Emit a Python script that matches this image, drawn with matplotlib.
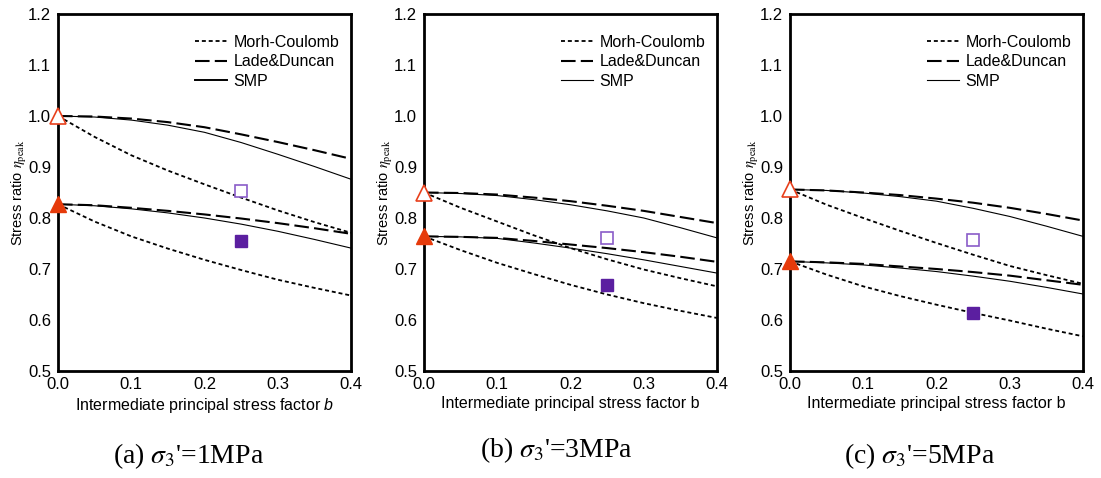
import matplotlib.pyplot as plt

plt.rcParams['font.family'] = ['Liberation Sans', 'DejaVu Sans']
plt.rcParams['mathtext.fontset'] = 'custom'
plt.rcParams['mathtext.rm'] = 'Liberation Sans'
plt.rcParams['mathtext.it'] = 'Liberation Sans:italic'

b = [0.0, 0.05, 0.1, 0.15, 0.2, 0.25, 0.3, 0.35, 0.4]

# (a) sigma3' = 1 MPa
mc_up_a = [1.000, 0.959, 0.923, 0.893, 0.866, 0.840, 0.815, 0.792, 0.771]
ld_up_a = [1.000, 0.999, 0.995, 0.988, 0.978, 0.964, 0.949, 0.933, 0.916]
smp_up_a = [1.000, 0.998, 0.992, 0.982, 0.968, 0.948, 0.925, 0.901, 0.876]
mc_lo_a = [0.827, 0.793, 0.764, 0.740, 0.718, 0.698, 0.679, 0.663, 0.648]
ld_lo_a = [0.827, 0.825, 0.820, 0.814, 0.807, 0.799, 0.790, 0.780, 0.769]
smp_lo_a = [0.827, 0.824, 0.818, 0.810, 0.800, 0.788, 0.774, 0.758, 0.741]
tri_a = [1.000, 0.827]
sq_a = [0.852, 0.754]

# (b) sigma3' = 3 MPa
mc_up_b = [0.850, 0.820, 0.793, 0.766, 0.741, 0.719, 0.699, 0.682, 0.666]
ld_up_b = [0.850, 0.849, 0.846, 0.840, 0.833, 0.824, 0.814, 0.802, 0.790]
smp_up_b = [0.850, 0.848, 0.844, 0.836, 0.826, 0.814, 0.800, 0.781, 0.761]
mc_lo_b = [0.764, 0.737, 0.712, 0.690, 0.669, 0.650, 0.633, 0.618, 0.604]
ld_lo_b = [0.764, 0.763, 0.761, 0.755, 0.748, 0.741, 0.733, 0.724, 0.714]
smp_lo_b = [0.764, 0.763, 0.760, 0.751, 0.741, 0.730, 0.718, 0.705, 0.692]
tri_b = [0.850, 0.764]
sq_b = [0.761, 0.668]

# (c) sigma3' = 5 MPa
mc_up_c = [0.856, 0.826, 0.800, 0.775, 0.751, 0.728, 0.706, 0.688, 0.671]
ld_up_c = [0.856, 0.854, 0.850, 0.845, 0.838, 0.830, 0.820, 0.808, 0.795]
smp_up_c = [0.856, 0.854, 0.849, 0.842, 0.833, 0.819, 0.803, 0.784, 0.764]
mc_lo_c = [0.715, 0.689, 0.666, 0.647, 0.630, 0.614, 0.599, 0.583, 0.568]
ld_lo_c = [0.715, 0.713, 0.710, 0.705, 0.700, 0.694, 0.687, 0.678, 0.669]
smp_lo_c = [0.715, 0.712, 0.708, 0.702, 0.695, 0.686, 0.676, 0.664, 0.651]
tri_c = [0.856, 0.715]
sq_c = [0.756, 0.614]

sq_b_pos = 0.25
captions = ["(a) $\\sigma_3$'=1MPa", "(b) $\\sigma_3$'=3MPa", "(c) $\\sigma_3$'=5MPa"]
xlabels = ['Intermediate principal stress factor $b$',
           'Intermediate principal stress factor b',
           'Intermediate principal stress factor b']

panels = [
    (mc_up_a, ld_up_a, smp_up_a, mc_lo_a, ld_lo_a, smp_lo_a, tri_a, sq_a),
    (mc_up_b, ld_up_b, smp_up_b, mc_lo_b, ld_lo_b, smp_lo_b, tri_b, sq_b),
    (mc_up_c, ld_up_c, smp_up_c, mc_lo_c, ld_lo_c, smp_lo_c, tri_c, sq_c),
]
lefts = [58, 424, 790]
cap_x = [189, 556, 920]
cap_base = [463, 457, 463]

fig = plt.figure(figsize=(11.01, 4.78), dpi=100)
mc_style = dict(color='black', lw=1.3, ls=(0, (2.2, 1.6)))
ld_style = dict(color='black', lw=1.5, ls=(0, (7, 2.5)))
smp_style = dict(color='black', lw=0.8, ls='-')

for i, (mcu, ldu, smpu, mcl, ldl, smpl, tri, sq) in enumerate(panels):
    ax = fig.add_axes([lefts[i] / 1101, 1 - 371 / 478, 293 / 1101, 357 / 478])
    for ys, st in [(mcu, mc_style), (ldu, ld_style), (smpu, smp_style),
                   (mcl, mc_style), (ldl, ld_style), (smpl, smp_style)]:
        ax.plot(b, ys, **st)
    ax.plot([], [], label='Morh-Coulomb', **mc_style)
    ax.plot([], [], label='Lade&Duncan', **ld_style)
    ax.plot([], [], label='SMP', color='black', lw=1.4 if i == 0 else 0.8)

    ax.plot(0, tri[0], marker='^', ms=11, mfc='white', mec='#e8401c', mew=1.2, clip_on=False, zorder=5)
    ax.plot(0, tri[1], marker='^', ms=11, mfc='#e63a0a', mec='#e63a0a', clip_on=False, zorder=5)
    ax.plot(sq_b_pos, sq[0], marker='s', ms=9, mfc='white', mec='#8a5cc8', mew=1.2, zorder=5)
    ax.plot(sq_b_pos, sq[1], marker='s', ms=9, mfc='#5b1fa0', mec='#5b1fa0', zorder=5)

    ax.set_xlim(0, 0.4)
    ax.set_ylim(0.5, 1.2)
    ax.set_xticks([0.0, 0.1, 0.2, 0.3, 0.4])
    ax.set_yticks([0.5, 0.6, 0.7, 0.8, 0.9, 1.0, 1.1, 1.2])
    ax.xaxis.set_major_formatter(plt.FormatStrFormatter('%.1f'))
    ax.yaxis.set_major_formatter(plt.FormatStrFormatter('%.1f'))
    ax.tick_params(axis='x', length=0, labelsize=12, pad=4)
    ax.tick_params(axis='y', length=0, labelsize=12, pad=5)
    for s in ax.spines.values():
        s.set_linewidth(2)
    ax.set_xlabel(xlabels[i], fontsize=11.5, labelpad=3)
    ax.set_ylabel('Stress ratio $\\eta_{\\rm peak}$', fontsize=10.5,
                  math_fontfamily='stix')
    ax.yaxis.set_label_coords(-0.1, 0.5)
    ax.legend(loc='upper left', bbox_to_anchor=(0.468, 0.942), frameon=False,
              borderpad=0, borderaxespad=0, fontsize=11.5, handlelength=2.0,
              handletextpad=0.4, labelspacing=0.29)
    fig.text(cap_x[i] / 1101, 1 - cap_base[i] / 478, captions[i], ha='center',
             va='baseline', fontsize=20, family='Liberation Serif',
             math_fontfamily='stix')

fig.savefig('out.png', dpi=100)
